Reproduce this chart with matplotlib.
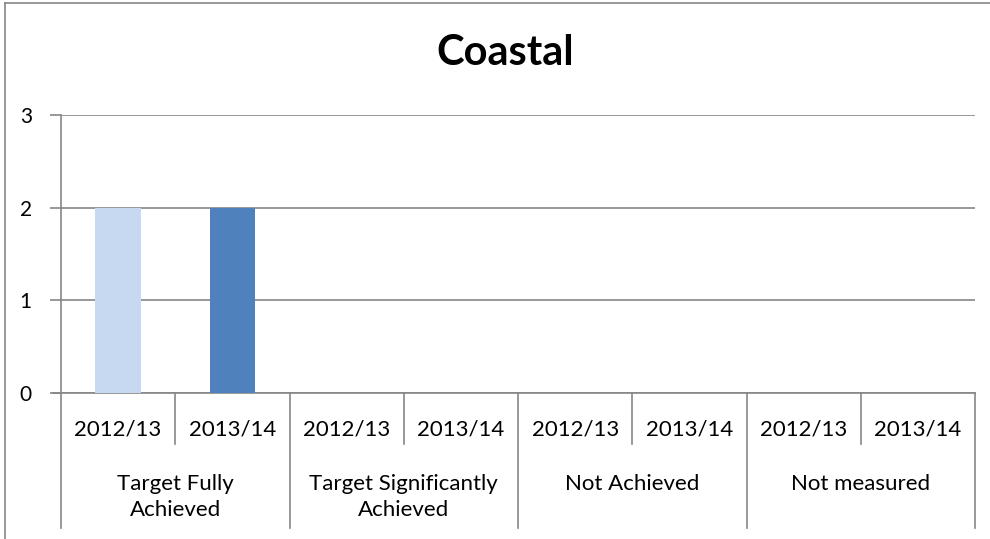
import matplotlib.pyplot as plt
from matplotlib.lines import Line2D
from matplotlib.transforms import blended_transform_factory

plt.rcParams['font.family'] = ['Lato', 'DejaVu Sans']

# data
groups = ['Target Fully\nAchieved', 'Target Significantly\nAchieved', 'Not Achieved', 'Not measured']
years = ['2012/13', '2013/14']
values_2012 = [2, 0, 0, 0]
values_2013 = [2, 0, 0, 0]
colors = ['#C6D9F1', '#4F81BD']
grey = '#868686'

fig = plt.figure(figsize=(9.9, 5.39), dpi=100)
ax = fig.add_axes([0.0616, 0.2709, 0.9234, 0.5157])

# chart border (only top and left are visible in the crop)
fig.add_artist(Line2D([5/990, 5/990], [0, 1 - 3/539], color=grey, lw=1.2))
fig.add_artist(Line2D([5/990, 1], [1 - 3/539, 1 - 3/539], color=grey, lw=1.2))

n = len(groups)
for g in range(n):
    for k, vals in enumerate([values_2012, values_2013]):
        x = g * 2 + k + 0.5
        if vals[g] > 0:
            ax.bar(x, vals[g], width=0.4, color=colors[k], zorder=3)

ax.set_xlim(0, n * 2)
ax.set_ylim(0, 3)
ax.set_yticks([0, 1, 2, 3])
ax.set_yticklabels(['0', '1', '2', '3'], fontsize=15)
ax.yaxis.grid(True, color=grey, lw=1.2)
ax.set_axisbelow(True)
ax.tick_params(axis='y', length=8, color=grey, width=1.2, pad=13)
ax.set_xticks([])
for s in ['top', 'right']:
    ax.spines[s].set_visible(False)
for s in ['left', 'bottom']:
    ax.spines[s].set_color(grey)
    ax.spines[s].set_linewidth(1.2)

# x axis extends left of plot like a tick
trans = blended_transform_factory(ax.transData, ax.transAxes)
ax.plot([-8 / 114.25, 0], [0, 0], color=grey, lw=1.2, transform=trans, clip_on=False)

# two-level category labels
px = 1 / 278  # one pixel in axes fraction (vertical)
for g in range(n):
    for k in range(2):
        x = g * 2 + k + 0.5
        ax.text(x, -43 * px, years[k], transform=trans, ha='center', va='baseline', fontsize=16)
    for i, line in enumerate(groups[g].split('\n')):
        ax.text(g * 2 + 1, -(97 + 26 * i) * px, line, transform=trans, ha='center',
                va='baseline', fontsize=16)
    ax.plot([g * 2 + 1, g * 2 + 1], [0, -51 * px], color=grey, lw=1.2, transform=trans, clip_on=False)
for g in range(n + 1):
    ax.plot([g * 2, g * 2], [0, -135 * px], color=grey, lw=1.2, transform=trans, clip_on=False)

fig.text(505 / 990, 1 - 53 / 539, 'Coastal', ha='center', va='center', fontsize=30, fontweight='bold')

fig.savefig('out.png', dpi=100)
